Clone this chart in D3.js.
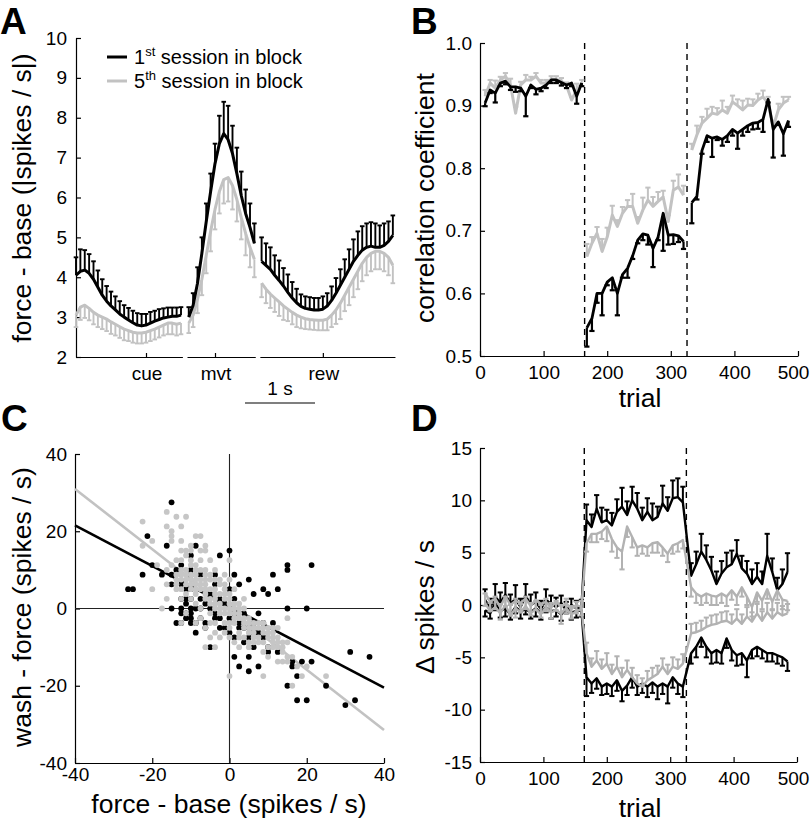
<!DOCTYPE html>
<html>
<head>
<meta charset="utf-8">
<script src="https://cdn.jsdelivr.net/npm/d3@7"></script>
<style>
  body { margin: 0; background: #fff; }
  svg { display: block; }
</style>
</head>
<body>
<div id="fig"></div>
<script>
// ---------------- data ----------------

// Panel A : |force - base| firing rate, 62.5 ms bins, aligned on cue / mvt / rew
const binWidth = 0.0625;
const segLabels = ["cue", "mvt", "rew"];
const segBinStart = [-1.0, -0.375, -0.875];
const segDomains = [[-1.0, 0.52], [-0.4, 0.575], [-0.9, 1.03]];

const cueFirstMean = [4.05,4.15,4.18,4.10,3.95,3.75,3.55,3.40,3.28,3.18,3.08,3.00,2.93,2.86,2.80,2.78,2.80,2.85,2.90,2.94,2.98,3.00,3.02,3.02,3.05];
const cueFirstErr  = [0.45,0.55,0.50,0.48,0.45,0.42,0.40,0.38,0.36,0.34,0.32,0.30,0.30,0.30,0.30,0.30,0.28,0.28,0.26,0.26,0.24,0.24,0.22,0.22,0.20];
const cueFifthMean = [3.05,3.25,3.30,3.22,3.12,3.05,3.00,2.95,2.88,2.82,2.76,2.70,2.66,2.62,2.60,2.60,2.62,2.66,2.70,2.75,2.80,2.85,2.85,2.82,2.85];
const cueFifthErr  = [0.30,0.32,0.32,0.30,0.30,0.30,0.30,0.30,0.30,0.28,0.28,0.28,0.26,0.26,0.26,0.26,0.26,0.26,0.26,0.26,0.26,0.28,0.28,0.28,0.28];

const mvtFirstMean = [3.00,3.30,3.85,4.60,5.40,6.15,6.85,7.35,7.60,7.45,7.10,6.60,6.05,5.60,5.25,4.85];
const mvtFirstErr  = [0.25,0.30,0.40,0.40,0.45,0.45,0.50,0.70,0.80,0.85,0.70,0.65,0.60,0.60,0.60,0.50];
const mvtFifthMean = [2.85,3.05,3.45,3.95,4.55,5.15,5.70,6.15,6.45,6.50,6.30,5.95,5.50,5.10,4.75,4.45];
const mvtFifthErr  = [0.25,0.30,0.35,0.40,0.45,0.50,0.50,0.55,0.60,0.60,0.60,0.55,0.55,0.55,0.50,0.45];

const rewFirstMean = [4.40,4.30,4.20,4.05,3.92,3.78,3.62,3.48,3.36,3.27,3.22,3.20,3.18,3.18,3.20,3.28,3.42,3.60,3.80,4.00,4.20,4.40,4.55,4.68,4.75,4.78,4.75,4.75,4.80,4.90,5.05];
const rewFirstErr  = [0.60,0.55,0.55,0.50,0.50,0.45,0.45,0.40,0.35,0.30,0.30,0.30,0.30,0.30,0.32,0.32,0.35,0.38,0.40,0.45,0.50,0.55,0.60,0.60,0.60,0.60,0.60,0.55,0.55,0.50,0.50];
const rewFifthMean = [3.85,3.70,3.58,3.48,3.38,3.28,3.20,3.12,3.05,3.00,2.96,2.94,2.93,2.92,2.92,2.95,3.05,3.18,3.35,3.55,3.75,3.95,4.15,4.35,4.50,4.60,4.65,4.65,4.60,4.50,4.30];
const rewFifthErr  = [0.35,0.35,0.35,0.35,0.35,0.35,0.30,0.30,0.30,0.28,0.26,0.25,0.25,0.25,0.25,0.28,0.30,0.35,0.40,0.40,0.45,0.45,0.45,0.45,0.45,0.45,0.45,0.45,0.45,0.45,0.45];

// Panels B and D : trial blocks (base / force / wash)
const trials1 = [8,16,24,32,40,48,56,64,72,80,88,96,104,112,120,128,136,144,152,160];
const trials2 = [168,176,184,192,200,208,216,224,232,240,248,256,264,272,280,288,296,304,312,320];
const trials3 = [333,341,349,357,365,373,381,389,397,405,413,421,429,437,445,453,461,469,477,485];
const blockEdges = [164.5, 325.5];

// Panel B : correlation coefficient
const corrFirst1 = [0.904,0.925,0.920,0.936,0.939,0.930,0.930,0.928,0.915,0.933,0.926,0.928,0.933,0.941,0.941,0.937,0.933,0.936,0.915,0.936];
const corrFirstErr1 = [0.005,0.005,0.015,0.005,0.005,0.005,0.008,0.005,0.032,0.005,0.008,0.005,0.005,0.005,0.005,0.005,0.005,0.005,0.012,0.005];
const corrFirst2 = [0.545,0.560,0.600,0.600,0.618,0.625,0.600,0.630,0.640,0.660,0.685,0.695,0.693,0.672,0.690,0.728,0.693,0.694,0.692,0.683];
const corrFirstErr2 = [0.030,0.020,0.015,0.035,0.005,0.020,0.035,0.005,0.015,0.005,0.005,0.010,0.015,0.030,0.005,0.060,0.015,0.015,0.010,0.012];
const corrFirst3 = [0.745,0.755,0.828,0.852,0.848,0.850,0.846,0.852,0.862,0.856,0.862,0.868,0.872,0.873,0.878,0.910,0.862,0.874,0.855,0.876];
const corrFirstErr3 = [0.033,0.005,0.005,0.010,0.030,0.005,0.010,0.010,0.010,0.025,0.010,0.010,0.010,0.010,0.020,0.005,0.045,0.005,0.035,0.010];
const corrFifth1 = [0.915,0.936,0.928,0.941,0.947,0.933,0.888,0.933,0.941,0.941,0.947,0.936,0.936,0.942,0.942,0.939,0.932,0.909,0.925,0.936];
const corrFifthErr1 = [0.010,0.005,0.012,0.005,0.005,0.010,0.010,0.005,0.008,0.005,0.005,0.005,0.005,0.005,0.005,0.005,0.005,0.005,0.010,0.005];
const corrFifth2 = [0.659,0.680,0.696,0.667,0.690,0.725,0.707,0.728,0.739,0.739,0.712,0.733,0.749,0.739,0.747,0.754,0.715,0.765,0.770,0.757];
const corrFifthErr2 = [0.020,0.010,0.010,0.020,0.015,0.015,0.010,0.010,0.010,0.020,0.010,0.020,0.020,0.015,0.015,0.010,0.010,0.015,0.020,0.015];
const corrFifth3 = [0.829,0.853,0.872,0.880,0.888,0.886,0.893,0.888,0.906,0.900,0.893,0.901,0.900,0.909,0.914,0.904,0.866,0.893,0.904,0.909];
const corrFifthErr3 = [0.010,0.015,0.010,0.015,0.010,0.010,0.015,0.010,0.010,0.010,0.015,0.010,0.010,0.010,0.010,0.010,0.010,0.010,0.010,0.005];

// Panel C : wash - force vs force - base (spikes / s), one dot per neuron
const scatterFirst = [
  [-15,27.5],[-21.25,18.75],[-16.25,16.25],[-8.75,16.25],[-10,13.75],[-2.5,13.75],[0,15],[-20,11.25],
  [-22.5,8.75],[-15,8.75],[-17.5,8.75],[-26.25,5],[-25,5],[15,11.25],[15,10],[21.25,11.25],[11.25,8.75],
  [5,7.5],[1.25,8.75],[8.75,5],[10,3.75],[12.5,5],[6.25,3.75],[15,0],[20,0],[-15,0],[-13.75,-3.75],
  [11.25,-3.75],[31.25,-11.25],[36.25,-12.5],[1.25,-12.5],[2.5,-15],[5,-16.25],[7.5,-15],[5,-12.5],
  [10,-11.25],[15,-20],[16.25,-15],[17.5,-17.5],[18.75,-13.75],[21.25,-13.75],[17.5,-23.75],[20,-23.75],
  [25,-20],[30,-25],[32.5,-23.75],[-5,-10],[12.5,-11.25],[16.25,-13.75],[-12.5,11.25],[-10,10],[-10,8.75],
  [-7.5,8.75],[-3.75,8.75],[2.5,6.25],[-12.5,-3.75],[-10,-2.5],[-10,-1.25],[-8.75,-3.75],[-6.25,-3.75],
  [-6.25,-5],[-2.5,-5],[3.75,-5],[5,-7.5],[1.25,-7.5],[6.25,-3.75],[7.5,-1.25],[10,-10],[6.25,-10],
  [-12.5,2.5],[-11.25,1.25],[-10,2.5],[-11.25,5],[-12.5,6.25],[-8.75,0],[-7.5,2.5],[-10,0],[-11.25,-1.25],
  [-6.25,1.25],[-5,3.75],[-3.75,-1.25],[-2.5,-2.5],[-1.25,1.25],[0,-2.5],[1.25,2.5],[2.5,-3.75],[3.75,-1.25],
  [0,5],[-3.75,6.25],[-13.75,10],[-12.5,-1.25],[-8.75,-6.25],[7.5,-6.25],[8.75,-7.5],[-15,6.25],[-10,5],[-7.5,-2.5],
  [-11.25,2.5],[-12.5,0],[-10,-3.75],[-11.25,-2.5],[-5,0],[-3.75,-2.5],[2.5,-5],[5,-5],[6.25,-6.25],
  [8.75,-3.75],[3.75,-8.75],[-7.5,0],[0,-6.25],[-1.25,-5],[-2.5,2.5],[1.25,-1.25]
];
const scatterFifth = [
  [-16.25,25],[-13.75,23.75],[-11.25,23.75],[-16.25,21.25],[-22.5,22.5],[-12.5,21.25],[-15,18.75],[-7.5,18.75],
  [-8.75,18.75],[-12.5,17.5],[-22.5,16.25],[-20,17.5],[-11.25,15],[-7.5,15],[-6.25,15],[-6.25,16.25],[-5,12.5],
  [-7.5,12.5],[-18.75,11.25],[-16.25,10],[0,12.5],[-20,5],[-17.5,0],[-12.5,-3.75],[-6.25,-10],[-3.75,-10],
  [0,-17.5],[8.75,-17.5],[15,-2.5],[18.75,-17.5],[16.25,-20],[25,-17.5],[20,-15],[-15,17.5],[-13.75,12.5],
  [-12.5,12.5],[-11.25,13.75],[-16.25,2.5],[-16.25,6.25],[12.5,-13.75],[13.75,-13.75],[15,-13.75],
  [-10,16.25],[-12.5,15],[-12.5,7.5],[-11.25,6.25],[-10,7.5],[-12.5,5],[-11.25,3.75],[-10,5],[-8.75,6.25],
  [-7.5,7.5],[-6.25,6.25],[-8.75,3.75],[-7.5,5],[-6.25,3.75],[-5,5],[-5,7.5],[-3.75,5],[-6.25,2.5],[-5,1.25],
  [-3.75,2.5],[-2.5,3.75],[-1.25,5],[-2.5,1.25],[-1.25,0],[0,1.25],[0,-1.25],[1.25,0],[-3.75,0],[-5,-1.25],
  [-2.5,-1.25],[1.25,-2.5],[2.5,-1.25],[2.5,1.25],[3.75,-2.5],[5,-3.75],[3.75,-5],[5,-5],[6.25,-6.25],[7.5,-5],
  [6.25,-3.75],[7.5,-7.5],[8.75,-6.25],[8.75,-3.75],[10,-5],[10,-7.5],[11.25,-6.25],[12.5,-5],[11.25,-8.75],
  [12.5,-10],[10,-10],[13.75,-11.25],[6.25,-8.75],[3.75,-7.5],[2.5,-6.25],[0,-5],[-1.25,-3.75],[-7.5,0],
  [-8.75,1.25],[-10,2.5],[-7.5,-2.5],[-6.25,-5],[-3.75,-6.25],[1.25,-8.75],[-2.5,6.25],[0,3.75],[1.25,5],
  [-1.25,8.75],[0,7.5],[-8.75,10],[-6.25,10],[-10,11.25],[-3.75,10],[-11.25,-1.25],[-8.75,-3.75],[2.5,-10],
  [5,-10],[3.75,2.5],[-13.75,5],[-12.5,2.5],
  [-11.25,8.75],[-10,8.75],[-8.75,8.75],[-7.5,10],[-6.25,8.75],[-5,8.75],[-3.75,7.5],[-2.5,7.5],[-1.25,6.25],
  [-1.25,2.5],[1.25,1.25],[2.5,0],[3.75,0],[3.75,-3.75],[5,-2.5],[5,-6.25],[6.25,-5],[7.5,-3.75],[8.75,-5],
  [8.75,-8.75],[10,-6.25],[11.25,-5],[11.25,-7.5],[12.5,-7.5],[12.5,-8.75],[11.25,-10],[13.75,-10],[7.5,-8.75],
  [6.25,-7.5],[5,-8.75],[2.5,-2.5],[1.25,-3.75],[0,-3.75],[-1.25,-1.25],[-2.5,0],[-3.75,1.25],[-5,2.5],
  [-6.25,5],[-7.5,6.25],[-8.75,5],[-10,6.25],[-11.25,7.5],[-8.75,7.5],[-6.25,7.5],[-3.75,3.75],[-1.25,3.75],
  [0,2.5],[1.25,-1.25],[-12.5,8.75],[-13.75,7.5],[-13.75,6.25],[-12.5,10],[-11.25,10],[-1.25,-6.25],[0,-7.5],
  [-2.5,-7.5],[-5,-7.5],[2.5,-7.5],[15,-8.75],[15,-12.5],[16.25,-12.5],[17.5,-15],[10,-12.5],[8.75,-11.25],
  [13.75,-8.75],[-3.75,-3.75],[-5,-3.75],[0,0],[-15,20],[-10,12.5],[-8.75,11.25],[-13.75,8.75],[-15,11.25],[-10,15]
];
// linear fits [slope, intercept]
const fitFirst = [-0.525, 0.5];
const fitFifth = [-0.78, -0.25];

// Panel D : change in firing rate (spikes / s), increasing and decreasing populations
const upFirst   = [0.5,-0.3,0.8,0.2,1.0,0.1,0.6,-0.2,0.9,0.0,0.3,-0.4,0.5,0.1,-0.2,0.2,-0.5,0.0,-0.3,-0.2,
                   8.1,7.45,9.2,7.9,8.1,7.6,8.9,9.4,8.6,10.0,9.2,8.1,8.9,8.1,8.4,9.7,9.0,10.2,10.3,9.8,
                   2.8,3.9,5.1,4.3,3.3,2.0,3.0,3.6,3.9,4.9,3.5,3.0,2.0,2.7,2.0,4.7,3.15,1.4,2.0,3.15];
const upFirstErr = [1.0,0.9,1.2,1.0,1.1,0.9,1.3,0.8,1.1,1.0,0.9,0.8,1.0,0.8,0.9,0.7,0.8,0.6,0.7,0.7,
                   1.5,1.2,1.3,1.4,1.0,1.2,1.2,1.8,1.3,1.3,1.5,1.2,1.3,1.6,1.0,1.7,1.3,1.7,1.8,1.5,
                   1.2,1.2,1.7,1.4,1.3,1.2,1.2,1.4,1.3,1.3,1.2,1.2,1.4,1.3,1.2,2.1,1.3,1.2,1.4,1.8];
const downFirst = [-0.5,-0.8,0.2,-0.6,-0.3,-0.9,-0.2,-0.6,-0.4,-0.7,-0.3,-0.8,-0.2,-0.6,-0.5,-0.9,-0.3,-0.7,-0.6,-0.5,
                   -6.9,-7.5,-7.0,-7.8,-7.5,-7.8,-7.2,-8.2,-7.7,-6.9,-7.8,-7.5,-7.8,-7.4,-7.8,-7.5,-7.8,-6.9,-7.5,-7.8,
                   -4.6,-4.0,-3.1,-4.0,-4.6,-4.3,-4.6,-3.2,-4.3,-4.8,-4.6,-5.3,-4.3,-4.0,-4.3,-4.6,-4.6,-4.8,-5.0,-5.4];
const downFirstErr = [0.6,0.5,0.7,0.6,0.8,0.5,0.6,0.7,0.5,0.6,0.8,0.6,0.5,0.7,0.6,0.6,0.5,0.7,0.6,0.6,
                   1.8,0.9,1.0,0.8,1.0,0.9,1.0,1.0,0.9,1.0,0.8,0.9,1.0,1.0,1.2,1.0,1.6,1.0,1.0,1.0,
                   1.0,1.0,0.9,1.0,1.0,1.2,1.0,0.9,1.0,1.0,1.1,1.6,0.8,0.9,0.8,0.8,0.8,0.8,0.8,0.9];
const upFifth   = [1.2,0.3,0.6,-0.2,0.8,0.0,0.4,0.2,0.6,-0.1,0.5,0.1,0.3,-0.3,0.4,-0.2,0.2,-0.4,0.0,-0.2,
                   5.9,6.8,6.8,7.0,7.5,6.3,5.5,5.1,7.5,6.5,5.5,5.7,5.5,5.9,6.0,5.5,4.9,5.7,5.9,6.2,
                   1.7,1.1,0.8,1.1,0.9,0.8,1.1,0.8,1.4,0.8,1.7,0.8,-0.2,1.2,0.4,1.5,0.3,1.4,0.5,0.4];
const upFifthErr = [1.3,0.9,1.0,1.2,0.9,1.0,1.6,0.9,1.0,0.9,1.0,1.3,0.9,1.0,0.9,1.6,1.0,0.9,0.8,0.8,
                   0.8,0.8,0.8,0.7,1.4,1.2,1.0,1.7,1.0,1.0,0.8,0.8,0.8,0.9,1.0,0.8,0.8,0.8,0.8,0.8,
                   0.9,0.9,0.8,0.9,0.9,0.8,0.9,0.9,0.9,0.8,0.9,0.8,0.9,0.9,0.8,0.9,0.8,0.9,0.9,0.9];
const downFifth = [0.2,-0.6,-0.2,-0.8,0.0,-1.0,-0.3,-0.7,-0.1,-0.8,-0.4,-0.9,-0.2,-0.7,-0.5,-0.8,-0.3,-0.9,-0.6,-0.4,
                   -4.6,-5.9,-5.3,-6.1,-5.6,-6.6,-5.9,-6.9,-6.2,-6.9,-7.5,-7.8,-7.2,-6.9,-6.6,-5.9,-6.6,-5.9,-6.1,-5.6,
                   -2.7,-2.6,-2.4,-2.1,-1.9,-1.8,-1.6,-1.5,-1.8,-1.3,-1.8,-1.1,-1.6,-0.8,-1.5,-0.7,-1.3,-0.7,-1.0,-0.8];
const downFifthErr = [0.9,0.8,1.0,0.9,0.8,1.0,0.9,0.8,0.9,1.0,0.8,0.9,0.8,0.9,0.9,0.8,0.9,0.8,0.9,0.8,
                   1.0,0.8,0.9,0.9,1.0,0.9,1.0,0.9,0.9,0.9,0.8,0.8,0.9,0.9,0.8,0.8,0.9,0.9,0.9,0.9,
                   0.9,0.9,0.9,0.9,0.9,0.9,0.9,0.9,0.9,0.9,0.9,0.9,0.9,0.9,0.9,0.9,0.9,0.9,0.9,0.9];

// ---------------- drawing ----------------
const W = 812, H = 825;
const FONT = '"Liberation Sans", Arial, Helvetica, sans-serif';
const BLACK = "#000";
const GRAY = "#c2c2c2";
const GRAY_D = "#b2b2b2";
const TICK_FS = 19, LABEL_FS = 26.5;

const svg = d3.select("#fig").append("svg")
    .attr("width", W).attr("height", H)
    .style("font-family", FONT)
    .style("background", "#fff");

function styleAxis(g) {
    g.attr("font-size", null).attr("font-family", null);
    g.select(".domain").attr("stroke", BLACK).attr("stroke-width", 1.2);
    g.selectAll(".tick line").attr("stroke", BLACK).attr("stroke-width", 1.2);
    g.selectAll(".tick text").attr("font-size", TICK_FS).attr("fill", BLACK);
}

function letter(txt, x, y) {
    svg.append("text").attr("x", x).attr("y", y)
        .attr("font-size", 37).attr("font-weight", "bold").text(txt);
}

function yLabel(txt, x, y, fs) {
    svg.append("text")
        .attr("transform", `translate(${x},${y}) rotate(-90)`)
        .attr("text-anchor", "middle").attr("font-size", fs || LABEL_FS).text(txt);
}

function xLabel(txt, x, y, fs) {
    svg.append("text").attr("x", x).attr("y", y)
        .attr("text-anchor", "middle").attr("font-size", fs || LABEL_FS).text(txt);
}

// mean line + one-sided error bars (dir = +1 up, -1 down)
function errSeries(g, xs, ys, xv, mean, err, dir, color, lw, bw, cap) {
    const bars = g.append("g").attr("stroke", color).attr("stroke-width", bw);
    mean.forEach((m, i) => {
        const x = xs(xv[i]), y0 = ys(m), y1 = ys(m + dir * err[i]);
        bars.append("line").attr("x1", x).attr("x2", x).attr("y1", y0).attr("y2", y1);
        bars.append("line").attr("x1", x - cap).attr("x2", x + cap).attr("y1", y1).attr("y2", y1);
    });
    g.append("path")
        .datum(mean)
        .attr("fill", "none").attr("stroke", color).attr("stroke-width", lw)
        .attr("stroke-linejoin", "round")
        .attr("d", d3.line().x((d, i) => xs(xv[i])).y(d => ys(d)));
}

// ===== Panel A =====
letter("A", 0, 34);
const aY = d3.scaleLinear().domain([2, 10]).range([357, 38]);
svg.append("g").attr("transform", "translate(76,0)")
    .call(d3.axisLeft(aY).ticks(8).tickSizeInner(-5).tickSizeOuter(0).tickPadding(9))
    .call(styleAxis);
yLabel("force - base (|spikes / s|)", 31, 198);

const pxPerSec = 70, segGap = 4.6;
const aFirstMean = [cueFirstMean, mvtFirstMean, rewFirstMean];
const aFirstErr = [cueFirstErr, mvtFirstErr, rewFirstErr];
const aFifthMean = [cueFifthMean, mvtFifthMean, rewFifthMean];
const aFifthErr = [cueFifthErr, mvtFifthErr, rewFifthErr];

let segX = 76;
segLabels.forEach((lab, k) => {
    const dom = segDomains[k];
    const xs = d3.scaleLinear().domain(dom).range([segX, segX + (dom[1] - dom[0]) * pxPerSec]);
    segX = xs.range()[1] + segGap;

    svg.append("g").attr("transform", "translate(0,357)")
        .call(d3.axisBottom(xs).tickValues([0]).tickSizeInner(-4).tickSizeOuter(0).tickFormat(() => ""))
        .call(styleAxis);
    svg.append("text").attr("x", xs(0) + 1).attr("y", 380)
        .attr("text-anchor", "middle").attr("font-size", TICK_FS).text(lab);

    const times = aFirstMean[k].map((d, i) => segBinStart[k] + i * binWidth);
    const g = svg.append("g");
    errSeries(g, xs, aY, times, aFifthMean[k], aFifthErr[k], -1, GRAY, 3, 1.9, 2.3);
    errSeries(g, xs, aY, times, aFirstMean[k], aFirstErr[k], +1, BLACK, 3, 1.9, 2.3);
});

// 1 s scale bar
svg.append("line").attr("x1", 245).attr("x2", 245 + pxPerSec).attr("y1", 403).attr("y2", 403)
    .attr("stroke", BLACK).attr("stroke-width", 1.2);
svg.append("text").attr("x", 245 + pxPerSec / 2).attr("y", 395)
    .attr("text-anchor", "middle").attr("font-size", TICK_FS).text("1 s");

// legend
[["1", "st", BLACK, 57], ["5", "th", GRAY, 81]].forEach(([n, sup, col, y]) => {
    svg.append("line").attr("x1", 107).attr("x2", 127).attr("y1", y).attr("y2", y)
        .attr("stroke", col).attr("stroke-width", 3);
    const t = svg.append("text").attr("x", 134).attr("y", y + 7).attr("font-size", 20);
    t.append("tspan").text(n);
    t.append("tspan").attr("dy", -8).attr("font-size", 13).text(sup);
    t.append("tspan").attr("dy", 8).text(" session in block");
});

// ===== Panel B =====
letter("B", 411, 34);
const bX = d3.scaleLinear().domain([0, 500]).range([480, 798]);
const bY = d3.scaleLinear().domain([0.5, 1.0]).range([356, 43]);
svg.append("g").attr("transform", "translate(480,0)")
    .call(d3.axisLeft(bY).tickValues([0.5, 0.6, 0.7, 0.8, 0.9, 1.0]).tickFormat(d3.format(".1f"))
        .tickSizeInner(-5).tickSizeOuter(0).tickPadding(8))
    .call(styleAxis);
svg.append("g").attr("transform", "translate(0,356)")
    .call(d3.axisBottom(bX).tickValues([0, 100, 200, 300, 400, 500])
        .tickSizeInner(-5).tickSizeOuter(0).tickPadding(10))
    .call(styleAxis)
    .call(g => g.selectAll(".tick text").filter(d => d === 500).attr("dx", -5));
xLabel("trial", 640, 407);
yLabel("correlation coefficient", 434, 198);

blockEdges.forEach(t => {
    svg.append("line").attr("x1", bX(t)).attr("x2", bX(t)).attr("y1", bY(1.0)).attr("y2", bY(0.5))
        .attr("stroke", BLACK).attr("stroke-width", 1.4).attr("stroke-dasharray", "6,5");
});
const bTrials = [trials1, trials2, trials3];
const bFirst = [corrFirst1, corrFirst2, corrFirst3], bFirstErr = [corrFirstErr1, corrFirstErr2, corrFirstErr3];
const bFifth = [corrFifth1, corrFifth2, corrFifth3], bFifthErr = [corrFifthErr1, corrFifthErr2, corrFifthErr3];
const gB = svg.append("g");
bTrials.forEach((tr, k) => {
    errSeries(gB, bX, bY, tr, bFifth[k], bFifthErr[k], +1, GRAY, 3, 2, 2.6);
});
bTrials.forEach((tr, k) => {
    errSeries(gB, bX, bY, tr, bFirst[k], bFirstErr[k], -1, BLACK, 2.8, 2.2, 2.6);
});

// ===== Panel C =====
letter("C", 1, 431);
const cX = d3.scaleLinear().domain([-40, 40]).range([75, 384]);
const cY = d3.scaleLinear().domain([-40, 40]).range([763, 454]);
svg.append("g").attr("transform", "translate(75,0)")
    .call(d3.axisLeft(cY).tickValues([-40, -20, 0, 20, 40]).tickFormat(d => String(d))
        .tickSizeInner(-5).tickSizeOuter(0).tickPadding(8))
    .call(styleAxis);
svg.append("g").attr("transform", "translate(0,763)")
    .call(d3.axisBottom(cX).tickValues([-40, -20, 0, 20, 40]).tickFormat(d => String(d))
        .tickSizeInner(-5).tickSizeOuter(0).tickPadding(5))
    .call(styleAxis);
xLabel("force - base (spikes / s)", 229, 813);
yLabel("wash - force (spikes / s)", 31, 607);

// zero lines
svg.append("line").attr("x1", cX(-40)).attr("x2", cX(40)).attr("y1", cY(0)).attr("y2", cY(0))
    .attr("stroke", "#222").attr("stroke-width", 1.1);
svg.append("line").attr("x1", cX(0)).attr("x2", cX(0)).attr("y1", cY(40)).attr("y2", cY(-40))
    .attr("stroke", "#222").attr("stroke-width", 1.1);

// fits
[[fitFifth, GRAY], [fitFirst, BLACK]].forEach(([f, col]) => {
    svg.append("line")
        .attr("x1", cX(-40)).attr("y1", cY(f[0] * -40 + f[1]))
        .attr("x2", cX(40)).attr("y2", cY(f[0] * 40 + f[1]))
        .attr("stroke", col).attr("stroke-width", 2.6);
});

svg.append("g").selectAll("circle").data(scatterFirst).join("circle")
    .attr("cx", d => cX(d[0])).attr("cy", d => cY(d[1])).attr("r", 2.9).attr("fill", BLACK);
svg.append("g").selectAll("circle").data(scatterFifth).join("circle")
    .attr("cx", d => cX(d[0])).attr("cy", d => cY(d[1])).attr("r", 2.9).attr("fill", "#c6c6c6");

// ===== Panel D =====
letter("D", 411, 431);
const dX = d3.scaleLinear().domain([0, 500]).range([480, 797]);
const dY = d3.scaleLinear().domain([-15, 15]).range([762, 448]);
svg.append("g").attr("transform", "translate(480,0)")
    .call(d3.axisLeft(dY).tickValues([-15, -10, -5, 0, 5, 10, 15]).tickFormat(d => String(d))
        .tickSizeInner(-5).tickSizeOuter(0).tickPadding(8))
    .call(styleAxis);
svg.append("g").attr("transform", "translate(0,762)")
    .call(d3.axisBottom(dX).tickValues([0, 100, 200, 300, 400, 500])
        .tickSizeInner(-5).tickSizeOuter(0).tickPadding(10))
    .call(styleAxis)
    .call(g => g.selectAll(".tick text").filter(d => d === 500).attr("dx", -4));
xLabel("trial", 640, 817);
yLabel("\u0394 spikes / s", 434, 607);

blockEdges.forEach(t => {
    svg.append("line").attr("x1", dX(t)).attr("x2", dX(t)).attr("y1", dY(15)).attr("y2", dY(-15))
        .attr("stroke", BLACK).attr("stroke-width", 1.4).attr("stroke-dasharray", "6,5");
});
const dTrials = trials1.concat(trials2, trials3);
const gD = svg.append("g");
errSeries(gD, dX, dY, dTrials, upFirst, upFirstErr, +1, BLACK, 2.4, 2, 2.6);
errSeries(gD, dX, dY, dTrials, downFirst, downFirstErr, -1, BLACK, 2.4, 2, 2.6);
errSeries(gD, dX, dY, dTrials, upFifth, upFifthErr, -1, GRAY_D, 2.4, 2, 2.6);
errSeries(gD, dX, dY, dTrials, downFifth, downFifthErr, +1, GRAY_D, 2.4, 2, 2.6);
</script>
</body>
</html>
